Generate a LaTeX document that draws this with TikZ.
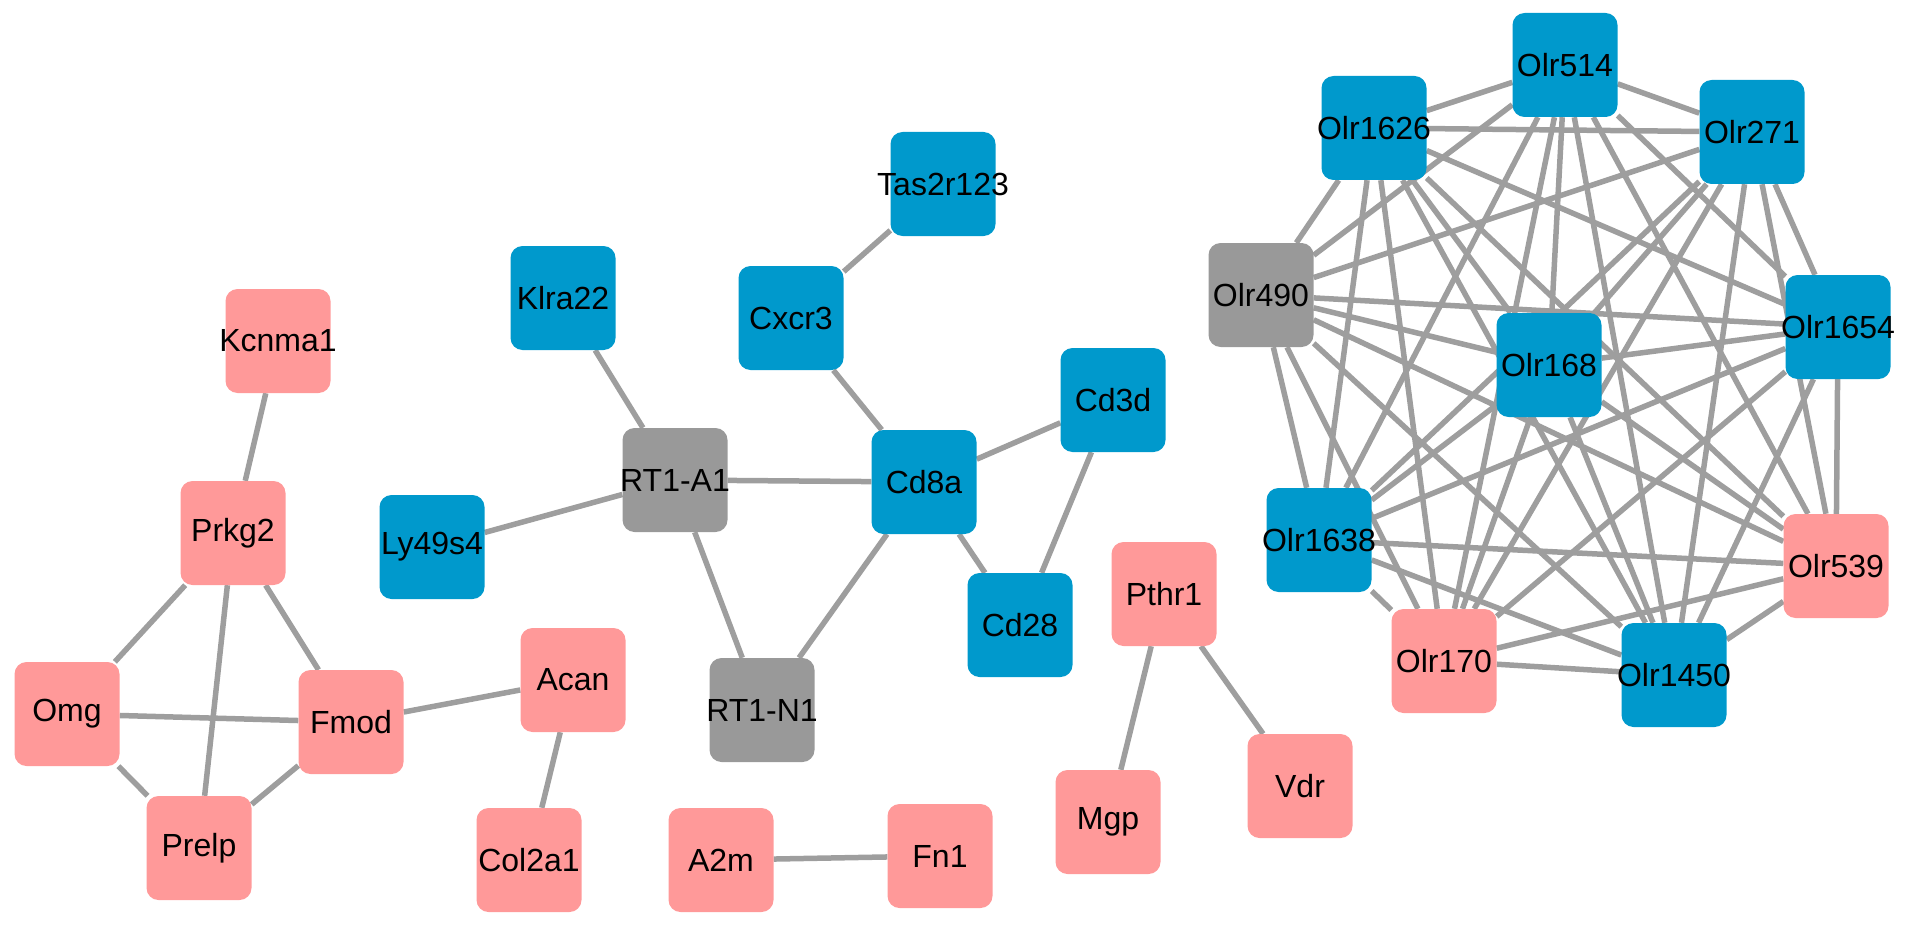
\documentclass[tikz,border=0pt]{standalone}
\usepackage{fontspec}
\setmainfont{Liberation Sans}
\usetikzlibrary{graphs,graphs.standard}
\pgfdeclarelayer{background}
\pgfsetlayers{background,main}

\definecolor{geneblue}{RGB}{0,153,204}
\definecolor{genepink}{RGB}{255,153,153}
\definecolor{genegray}{RGB}{153,153,153}
\definecolor{linkgray}{RGB}{158,158,158}

\newcommand{\gn}[1]{\makebox[0pt]{#1}}

\tikzset{
	gene/.style={rectangle, rounded corners=12pt, minimum width=105pt, minimum height=104pt, inner sep=0pt, font=\fontsize{32}{38}\selectfont},
	bluegene/.style={gene, fill=geneblue},
	pinkgene/.style={gene, fill=genepink},
	graygene/.style={gene, fill=genegray},
	link/.style={draw=linkgray, line width=5.5pt}
}

\begin{document}
\begin{tikzpicture}[x=1pt, y=-1pt]
			\useasboundingbox (0,0) rectangle (1910,928);

			% left group
			\node[pinkgene] (kcnma1) at (278,341) {\gn{Kcnma1}};
			\node[pinkgene] (prkg2) at (233,533) {\gn{Prkg2}};
			\node[pinkgene] (omg) at (67,714) {\gn{Omg}};
			\node[pinkgene] (fmod) at (351,722) {\gn{Fmod}};
			\node[pinkgene] (prelp) at (199,848) {\gn{Prelp}};
			\node[pinkgene] (acan) at (573,680) {\gn{Acan}};
			\node[pinkgene] (col2a1) at (529,860) {\gn{Col2a1}};

			% middle group
			\node[bluegene] (ly49s4) at (432,547) {\gn{Ly49s4}};
			\node[bluegene] (klra22) at (563,298) {\gn{Klra22}};
			\node[graygene] (rt1a1) at (675,480) {\gn{RT1-A1}};
			\node[graygene] (rt1n1) at (762,710) {\gn{RT1-N1}};
			\node[bluegene] (cxcr3) at (791,318) {\gn{Cxcr3}};
			\node[bluegene] (tas2r123) at (943,184) {\gn{Tas2r123}};
			\node[bluegene] (cd8a) at (924,482) {\gn{Cd8a}};
			\node[bluegene] (cd3d) at (1113,400) {\gn{Cd3d}};
			\node[bluegene] (cd28) at (1020,625) {\gn{Cd28}};

			\node[pinkgene] (a2m) at (721,860) {\gn{A2m}};
			\node[pinkgene] (fn1) at (940,856) {\gn{Fn1}};
			\node[pinkgene] (pthr1) at (1164,594) {\gn{Pthr1}};
			\node[pinkgene] (mgp) at (1108,822) {\gn{Mgp}};
			\node[pinkgene] (vdr) at (1300,786) {\gn{Vdr}};

			% olfactory receptors
			\node[bluegene] (olr514) at (1565,65) {\gn{Olr514}};
			\node[bluegene] (olr1626) at (1374,128) {\gn{Olr1626}};
			\node[bluegene] (olr271) at (1752,132) {\gn{Olr271}};
			\node[graygene] (olr490) at (1261,295) {\gn{Olr490}};
			\node[bluegene] (olr1654) at (1838,327) {\gn{Olr1654}};
			\node[bluegene] (olr168) at (1549,365) {\gn{Olr168}};
			\node[bluegene] (olr1638) at (1319,540) {\gn{Olr1638}};
			\node[pinkgene] (olr539) at (1836,566) {\gn{Olr539}};
			\node[pinkgene] (olr170) at (1444,661) {\gn{Olr170}};
			\node[bluegene] (olr1450) at (1674,675) {\gn{Olr1450}};

			\begin{pgfonlayer}{background}
			\draw[link] (kcnma1)--(prkg2)--(omg)--(fmod)--(prelp)--(omg);
			\draw[link] (prkg2)--(fmod)--(acan)--(col2a1);
			\draw[link] (prkg2)--(prelp);
			\draw[link] (ly49s4)--(rt1a1)--(klra22);
			\draw[link] (rt1a1)--(cd8a)--(rt1n1)--(rt1a1);
			\draw[link] (tas2r123)--(cxcr3)--(cd8a)--(cd3d)--(cd28)--(cd8a);
			\draw[link] (a2m)--(fn1);
			\draw[link] (mgp)--(pthr1)--(vdr);
			\graph[use existing nodes, edges={link}] {
				subgraph K_n [V={olr514, olr1626, olr271, olr490, olr1654, olr168, olr1638, olr539, olr170, olr1450}]
			};
			\end{pgfonlayer}
		\end{tikzpicture}
\end{document}
